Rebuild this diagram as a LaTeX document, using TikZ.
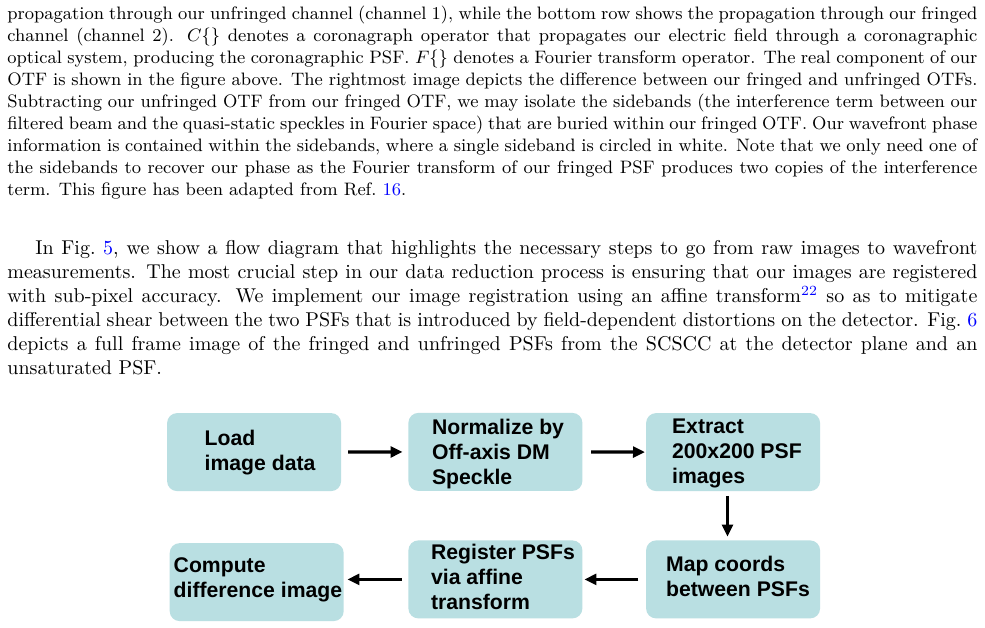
\documentclass[tikz,border=0pt]{standalone}
\usepackage{fontspec}
\newfontfamily\flowfont{Liberation Sans}
\usetikzlibrary{arrows.meta}
\definecolor{boxfill}{HTML}{B9DFE2}
\definecolor{linkblue}{HTML}{0000FF}
\newcommand{\lnk}[1]{\textcolor{linkblue}{#1}}
\begin{document}
\begin{tikzpicture}[x=0.5pt,y=-0.5pt,
  capline/.style={anchor=base west, inner sep=0pt, font=\small},
  parline/.style={anchor=base west, inner sep=0pt, font=\normalsize},
  flowbox/.style={rectangle, rounded corners=5pt, fill=boxfill, draw=none,
    minimum width=87pt, minimum height=39pt, inner sep=0pt, anchor=north west},
  flowtext/.style={anchor=base west, inner sep=0pt, align=left,
    font=\flowfont\fontsize{10.6pt}{12.5pt}\selectfont\bfseries},
  flowarrow/.style={line width=1.6pt, -{Triangle[length=6pt,width=5.4pt]}}]
\fill[white] (0,0) rectangle (985,627);
\useasboundingbox (0,0) rectangle (985,627);

% caption paragraph
\node[capline] (c1) at (7,19) {\makebox[485pt][s]{propagation through our unfringed channel (channel 1), while the bottom row shows the propagation through our fringed}};
\node[capline] (c2) at (7,41) {\makebox[485pt][s]{channel (channel 2). $C\{\}$ denotes a coronagraph operator that propagates our electric field through a coronagraphic}};
\node[capline] (c3) at (7,63) {\makebox[485pt][s]{optical system, producing the coronagraphic PSF. $F\{\}$ denotes a Fourier transform operator. The real component of our}};
\node[capline] (c4) at (7,85) {\makebox[485pt][s]{OTF is shown in the figure above. The rightmost image depicts the difference between our fringed and unfringed OTFs.}};
\node[capline] (c5) at (7,107) {\makebox[485pt][s]{Subtracting our unfringed OTF from our fringed OTF, we may isolate the sidebands (the interference term between our}};
\node[capline] (c6) at (7,129) {\makebox[485pt][s]{filtered beam and the quasi-static speckles in Fourier space) that are buried within our fringed OTF. Our wavefront phase}};
\node[capline] (c7) at (7,151) {\makebox[485pt][s]{information is contained within the sidebands, where a single sideband is circled in white. Note that we only need one of}};
\node[capline] (c8) at (7,173) {\makebox[485pt][s]{the sidebands to recover our phase as the Fourier transform of our fringed PSF produces two copies of the interference}};
\node[capline] (c9) at (7,195) {term. This figure has been adapted from Ref.~\lnk{16}.};

% body paragraph
\node[parline] (p1) at (35,254.3) {\makebox[471pt][s]{In Fig.~\lnk{5}, we show a flow diagram that highlights the necessary steps to go from raw images to wavefront}};
\node[parline] (p2) at (7,278.3) {\makebox[485pt][s]{measurements. The most crucial step in our data reduction process is ensuring that our images are registered}};
\node[parline] (p3) at (7,302.3) {\makebox[485pt][s]{with sub-pixel accuracy. We implement our image registration using an affine transform\textsuperscript{\lnk{22}} so as to mitigate}};
\node[parline] (p4) at (7,326.3) {\makebox[485pt][s]{differential shear between the two PSFs that is introduced by field-dependent distortions on the detector. Fig.~\lnk{6}}};
\node[parline] (p5) at (7,350.3) {\makebox[485pt][s]{depicts a full frame image of the fringed and unfringed PSFs from the SCSCC at the detector plane and an}};
\node[parline] (p6) at (7,374.3) {unsaturated PSF.};

% flow diagram boxes
\node[flowbox] (b1) at (166.7,412.7) {};
\node[flowbox] (b2) at (408,412.5) {};
\node[flowbox] (b3) at (645.7,412.7) {};
\node[flowbox] (b4) at (645.7,540) {};
\node[flowbox] (b5) at (408,540) {};
\node[flowbox] (b6) at (169.3,542.7) {};

% text: anchor is the baseline of the last line
\node[flowtext] (t1) at (204.3,470.8) {Load\\image data};
\node[flowtext] (t2) at (431.7,484.5) {Normalize by\\Off-axis DM\\Speckle};
\node[flowtext] (t3) at (671.7,483.3) {Extract\\200x200 PSF\\images};
\node[flowtext] (t4) at (665.7,596.8) {Map coords\\between PSFs};
\node[flowtext] (t5) at (430.7,609.3) {Register PSFs\\via affine\\transform};
\node[flowtext] (t6) at (173.3,597.5) {Compute\\difference image};

% connectors
\draw[flowarrow, shorten <=3.3pt, shorten >=2.7pt] (b1.east) -- (b2.west);
\draw[flowarrow, shorten <=4.2pt, shorten >=0.35pt] (b2.east) -- (b3.west);
\draw[flowarrow, shorten <=2.2pt, shorten >=1.7pt] ([xshift=-2.8pt]b3.south) -- ([xshift=-2.8pt]b4.north);
\draw[flowarrow, shorten <=3.7pt, shorten >=0.8pt] (b4.west) -- (b5.east);
\draw[flowarrow, shorten <=3.15pt, shorten >=1.65pt] (b5.west) -- (b5.west -| b6.east);
\end{tikzpicture}
\end{document}
